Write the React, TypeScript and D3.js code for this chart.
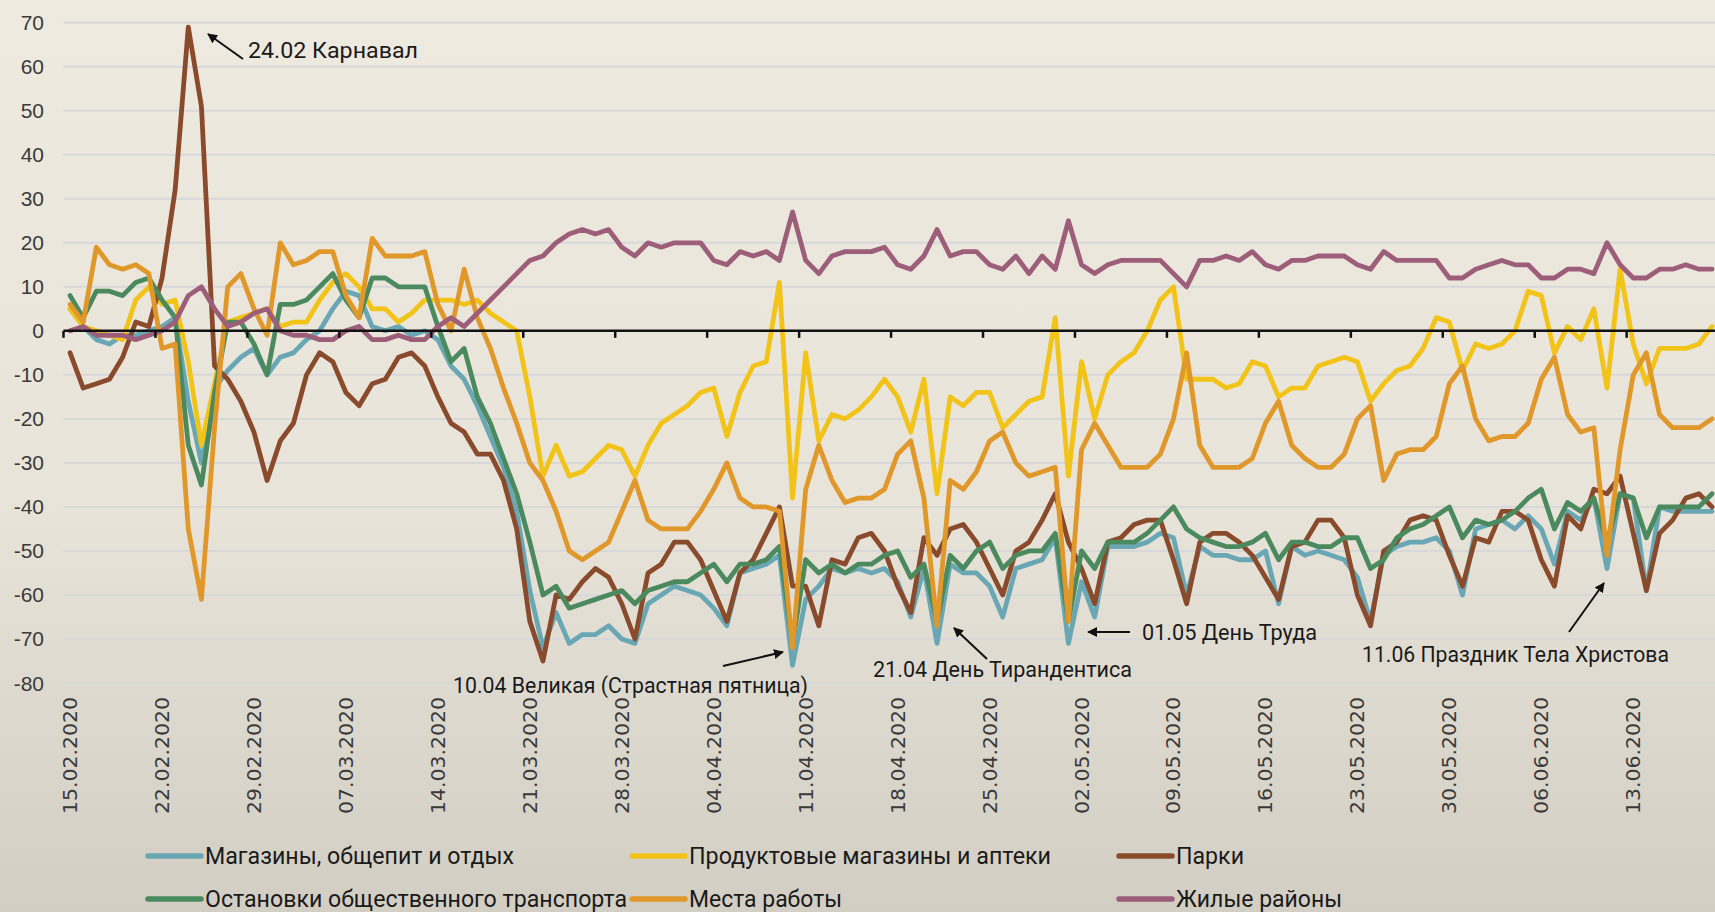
import React from "react";
import * as d3 from "d3";

const W = 1715;
const H = 912;

// categories: daily, 15.02.2020 .. 19.06.2020
const dates: Date[] = d3.timeDay.range(new Date(2020, 1, 15), new Date(2020, 5, 20));
const tickLabels = [
  "15.02.2020", "22.02.2020", "29.02.2020", "07.03.2020", "14.03.2020", "21.03.2020",
  "28.03.2020", "04.04.2020", "11.04.2020", "18.04.2020", "25.04.2020", "02.05.2020",
  "09.05.2020", "16.05.2020", "23.05.2020", "30.05.2020", "06.06.2020", "13.06.2020",
];
const yTicks = [70, 60, 50, 40, 30, 20, 10, 0, -10, -20, -30, -40, -50, -60, -70, -80];

const retail = [
  5, 1, -2, -3, -1, -1, 0, 1, 3, -16, -30, -13, -9, -6, -4, -10, -6, -5, -2, 0,
  5, 9, 8, 1, 0, 1, -1, 0, -2, -8, -11, -17, -24, -31, -41, -59, -72, -64, -71, -69,
  -69, -67, -70, -71, -62, -60, -58, -59, -60, -63, -67, -55, -54, -53, -51, -76, -61, -58, -54, -55,
  -54, -55, -54, -57, -65, -54, -71, -53, -55, -55, -58, -65, -54, -53, -52, -47, -71, -57, -65, -49,
  -49, -49, -48, -46, -47, -60, -49, -51, -51, -52, -52, -50, -62, -49, -51, -50, -51, -52, -56, -66,
  -51, -49, -48, -48, -47, -50, -60, -45, -44, -43, -45, -42, -45, -53, -41, -43, -38, -54, -37, -38,
  -59, -40, -41, -41, -41, -41,
];
const grocery = [
  5, 1, 0, -1, -2, 7, 10, 6, 7, -7, -26, -12, 2, 3, 4, 5, 1, 2, 2, 7,
  11, 13, 10, 5, 5, 2, 4, 7, 7, 7, 6, 7, 4, 2, 0, -15, -33, -26, -33, -32,
  -29, -26, -27, -33, -26, -21, -19, -17, -14, -13, -24, -14, -8, -7, 11, -38, -5, -25, -19, -20,
  -18, -15, -11, -15, -23, -11, -37, -15, -17, -14, -14, -22, -19, -16, -15, 3, -33, -7, -20, -10,
  -7, -5, 0, 7, 10, -11, -11, -11, -13, -12, -7, -8, -15, -13, -13, -8, -7, -6, -7, -16,
  -12, -9, -8, -4, 3, 2, -9, -3, -4, -3, 0, 9, 8, -5, 1, -2, 5, -13, 14, -3,
  -12, -4, -4, -4, -3, 1,
];
const parks = [
  -5, -13, -12, -11, -6, 2, 1, 12, 32, 69, 51, -8, -11, -16, -23, -34, -25, -21, -10, -5,
  -7, -14, -17, -12, -11, -6, -5, -8, -15, -21, -23, -28, -28, -34, -45, -66, -75, -60, -61, -57,
  -54, -56, -62, -70, -55, -53, -48, -48, -52, -59, -66, -55, -52, -46, -40, -58, -58, -67, -52, -53,
  -47, -46, -50, -58, -64, -47, -51, -45, -44, -48, -54, -60, -50, -48, -43, -37, -48, -54, -62, -48,
  -47, -44, -43, -43, -52, -62, -48, -46, -46, -48, -51, -56, -61, -49, -48, -43, -43, -47, -60, -67,
  -50, -48, -43, -42, -43, -51, -58, -47, -48, -41, -41, -43, -52, -58, -42, -45, -36, -37, -33, -46,
  -59, -46, -43, -38, -37, -40,
];
const transit = [
  8, 3, 9, 9, 8, 11, 12, 7, 3, -26, -35, -14, 2, 2, -3, -10, 6, 6, 7, 10,
  13, 7, 3, 12, 12, 10, 10, 10, 1, -7, -4, -15, -21, -29, -37, -48, -60, -58, -63, -62,
  -61, -60, -59, -62, -59, -58, -57, -57, -55, -53, -57, -53, -53, -52, -49, -71, -52, -55, -53, -55,
  -53, -53, -51, -50, -56, -53, -66, -51, -54, -50, -48, -54, -51, -50, -50, -46, -66, -50, -54, -48,
  -48, -48, -46, -43, -40, -45, -47, -48, -49, -49, -48, -46, -52, -48, -48, -49, -49, -47, -47, -54,
  -52, -47, -45, -44, -42, -40, -47, -43, -44, -43, -41, -38, -36, -45, -39, -41, -38, -48, -37, -38,
  -47, -40, -40, -40, -40, -37,
];
const workplaces = [
  6, 2, 19, 15, 14, 15, 13, -4, -3, -45, -61, -22, 10, 13, 5, -1, 20, 15, 16, 18,
  18, 8, 3, 21, 17, 17, 17, 18, 6, 0, 14, 3, -4, -13, -21, -30, -34, -41, -50, -52,
  -50, -48, -41, -34, -43, -45, -45, -45, -41, -36, -30, -38, -40, -40, -41, -72, -36, -26, -34, -39,
  -38, -38, -36, -28, -25, -38, -67, -34, -36, -32, -25, -23, -30, -33, -32, -31, -66, -27, -21, -26,
  -31, -31, -31, -28, -20, -5, -26, -31, -31, -31, -29, -21, -16, -26, -29, -31, -31, -28, -20, -17,
  -34, -28, -27, -27, -24, -12, -8, -20, -25, -24, -24, -21, -11, -6, -19, -23, -22, -51, -27, -10,
  -5, -19, -22, -22, -22, -20,
];
const residential = [
  0, 1, -1, -1, -1, -2, -1, 0, 2, 8, 10, 5, 1, 2, 4, 5, 0, -1, -1, -2,
  -2, 0, 1, -2, -2, -1, -2, -2, 1, 3, 1, 4, 7, 10, 13, 16, 17, 20, 22, 23,
  22, 23, 19, 17, 20, 19, 20, 20, 20, 16, 15, 18, 17, 18, 16, 27, 16, 13, 17, 18,
  18, 18, 19, 15, 14, 17, 23, 17, 18, 18, 15, 14, 17, 13, 17, 14, 25, 15, 13, 15,
  16, 16, 16, 16, 13, 10, 16, 16, 17, 16, 18, 15, 14, 16, 16, 17, 17, 17, 15, 14,
  18, 16, 16, 16, 16, 12, 12, 14, 15, 16, 15, 15, 12, 12, 14, 14, 13, 20, 15, 12,
  12, 14, 14, 15, 14, 14,
];

const seriesNames = [
  "Магазины, общепит и отдых",
  "Продуктовые магазины и аптеки",
  "Парки",
  "Остановки общественного транспорта",
  "Места работы",
  "Жилые районы",
];
const seriesValues = [retail, grocery, parks, transit, workplaces, residential];
const seriesColors = ["#69A7B4", "#F2C419", "#8A4B2C", "#4B8A5E", "#E0982B", "#9C5E79"];

const annotationTexts = [
  "24.02 Карнавал",
  "10.04 Великая (Страстная пятница)",
  "21.04 День Тирандентиса",
  "01.05 День Труда",
  "11.06 Праздник Тела Христова",
];

export default function App() {
  const n = dates.length;
  const step = 13.136;
  const left = 63.5;
  const x = d3.scaleBand<number>().domain(d3.range(n)).range([left, left + n * step]).paddingInner(0).paddingOuter(0);
  const cx = (i: number) => (x(i) as number) + x.bandwidth() / 2;
  const y = d3.scaleLinear().domain([-80, 70]).range([683, 22.7]);
  const line = d3
    .line<number>()
    .x((_, i) => cx(i))
    .y((d) => y(d));

  const plotRight = W;
  const tickIdx = d3.range(0, n, 7);

  const ann = [
    { x: 248, y: 58, len: 170, arrow: [243, 59, 208, 34] },
    { x: 453, y: 693, len: 355, arrow: [723, 666, 783, 652] },
    { x: 873, y: 677, len: 259, arrow: [987, 659, 954, 628] },
    { x: 1142, y: 640, len: 175, arrow: [1130, 632, 1088, 632] },
    { x: 1362, y: 662, len: 307, arrow: [1569, 632, 1604, 583] },
  ];

  const legendCols = [148, 632, 1119];
  const legendRows = [856, 899];
  const legendLens = [309, 362, 68, 422, 153, 166];

  return (
    <svg
      width={W}
      height={H}
      style={{ position: "absolute", left: 0, top: 0, display: "block" }}
      xmlns="http://www.w3.org/2000/svg"
    >
      <defs>
        <linearGradient id="bg" x1="0" y1="0" x2="0" y2="1">
          <stop offset="0%" stopColor="#EEEAE0" />
          <stop offset="55%" stopColor="#E8E4D9" />
          <stop offset="100%" stopColor="#D3CEC4" />
        </linearGradient>
        <marker id="arrow" viewBox="0 0 10 10" refX="9" refY="5" markerWidth="5" markerHeight="5" orient="auto">
          <path d="M0,0 L10,5 L0,10 z" fill="#111" />
        </marker>
      </defs>
      <rect x={0} y={0} width={W} height={H} fill="url(#bg)" />

      {yTicks.filter((t) => t !== 0).map((t) => (
        <line key={t} x1={left} x2={plotRight} y1={y(t)} y2={y(t)} stroke="#D8D8DB" strokeWidth={2} />
      ))}

      {yTicks.map((t) => (
        <text
          key={"yl" + t}
          x={44}
          y={y(t)}
          textAnchor="end"
          dominantBaseline="central"
          fontFamily="'Liberation Sans', Arial, sans-serif"
          fontSize={21}
          fill="#3a3a3a"
        >
          {t}
        </text>
      ))}

      {seriesValues.map((vals, s) => (
        <path
          key={"s" + s}
          d={line(vals) || ""}
          fill="none"
          stroke={seriesColors[s]}
          strokeWidth={4.8}
          strokeLinejoin="round"
          strokeLinecap="round"
        />
      ))}

      <line x1={left} x2={plotRight} y1={y(0)} y2={y(0)} stroke="#111" strokeWidth={2.5} />
      {tickIdx.map((i) => (
        <line key={"tk" + i} x1={x(i) as number} x2={x(i) as number} y1={y(0)} y2={y(0) + 7} stroke="#111" strokeWidth={2.5} />
      ))}

      {tickIdx.map((i, k) => (
        <text
          key={"dl" + i}
          transform={`translate(${cx(i)},697) rotate(-90)`}
          textAnchor="end"
          dominantBaseline="central"
          fontFamily="'DejaVu Sans', sans-serif"
          fontSize={19}
          textLength={117}
          lengthAdjust="spacingAndGlyphs"
          fill="#3a3a3a"
        >
          {tickLabels[k]}
        </text>
      ))}

      {ann.map((a, k) => (
        <g key={"an" + k}>
          <line
            x1={a.arrow[0]}
            y1={a.arrow[1]}
            x2={a.arrow[2]}
            y2={a.arrow[3]}
            stroke="#111"
            strokeWidth={2}
            markerEnd="url(#arrow)"
          />
          <text
            x={a.x}
            y={a.y}
            fontFamily="Roboto, 'Noto Sans', sans-serif"
            fontSize={22}
            textLength={a.len}
            lengthAdjust="spacingAndGlyphs"
            fill="#1a1a1a"
          >
            {annotationTexts[k]}
          </text>
        </g>
      ))}

      {seriesNames.map((name, s) => {
        const col = s % 3;
        const row = Math.floor(s / 3);
        const lx = legendCols[col];
        const ly = legendRows[row];
        return (
          <g key={"lg" + s}>
            <line x1={lx} x2={lx + 53} y1={ly} y2={ly} stroke={seriesColors[s]} strokeWidth={5.5} strokeLinecap="round" />
            <text
              x={lx + 57}
              y={ly}
              dominantBaseline="central"
              fontFamily="Roboto, 'Noto Sans', sans-serif"
              fontSize={23}
              textLength={legendLens[s]}
              lengthAdjust="spacingAndGlyphs"
              fill="#1a1a1a"
            >
              {name}
            </text>
          </g>
        );
      })}
    </svg>
  );
}
